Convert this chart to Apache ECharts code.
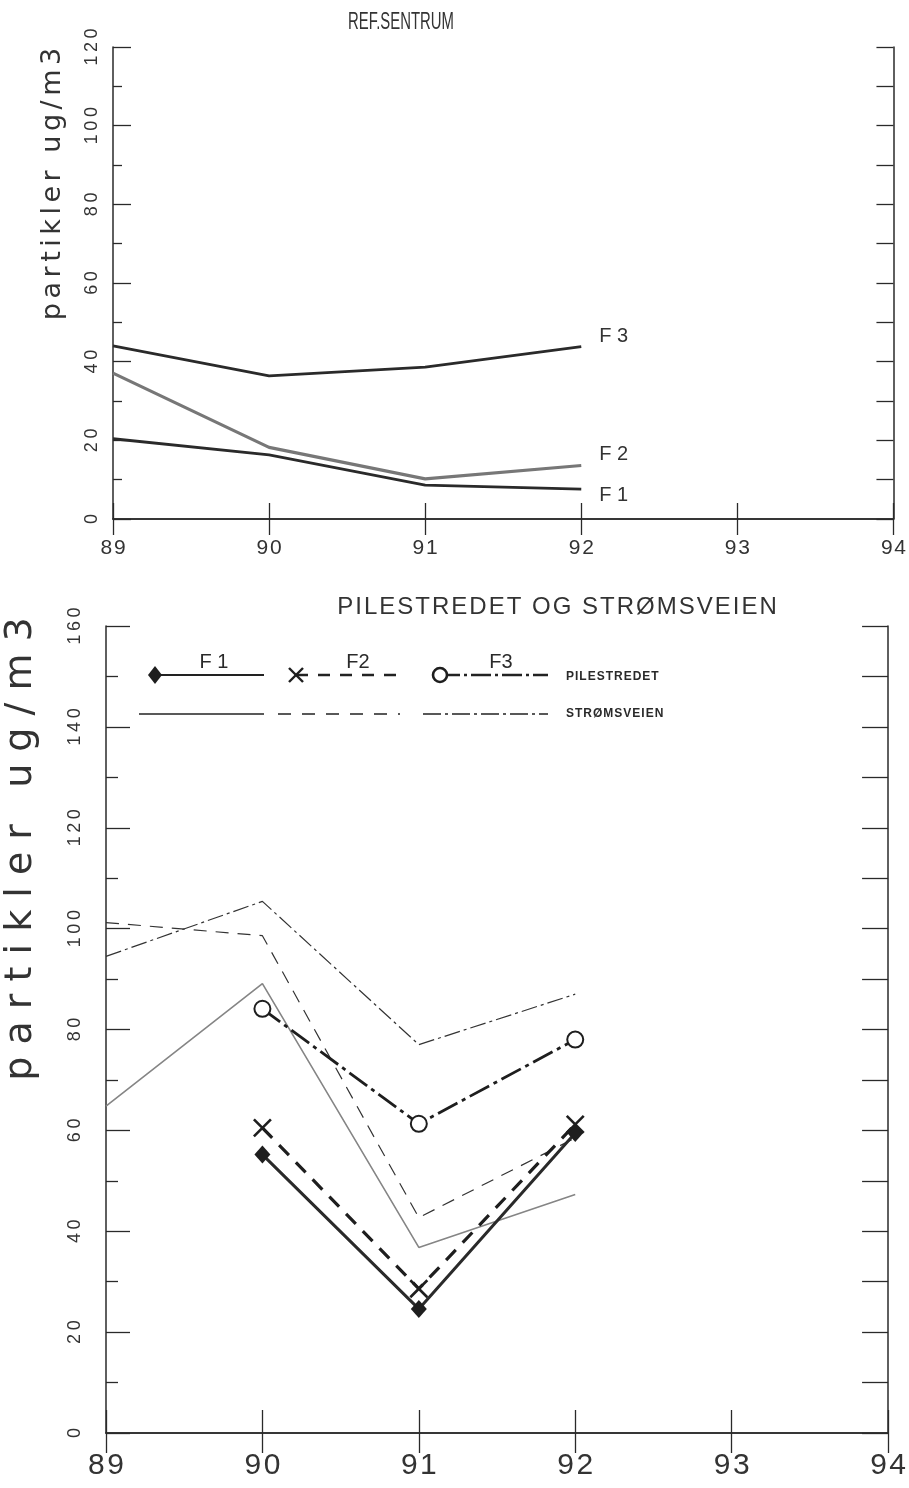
<!DOCTYPE html>
<html>
<head>
<meta charset="utf-8">
<title>Partikler ug/m3</title>
<script src="https://cdn.jsdelivr.net/npm/echarts@6/dist/echarts.min.js"></script>
<style>
  html, body { margin: 0; padding: 0; background: #fff; }
  #chart { width: 909px; height: 1488px; }
</style>
</head>
<body>
<div id="chart"></div>
<script>
// Years on the horizontal axis
const refYears = [89, 90, 91, 92];
const pileYears = [90, 91, 92];
const stromYears = [89, 90, 91, 92];

// REF. SENTRUM (upper panel), fraction F1..F3
const refF1 = [20.4, 16.3, 8.6, 7.6];
const refF2 = [37.1, 18.2, 10.2, 13.6];
const refF3 = [44.0, 36.4, 38.6, 43.8];

// Pilestredet (lower panel, heavy lines with markers)
const pileF1 = [55.2, 24.6, 59.5];
const pileF2 = [60.5, 28.6, 61.2];
const pileF3 = [84.1, 61.3, 78.0];

// Strømsveien (lower panel, thin lines)
const stromF1 = [64.8, 89.1, 36.8, 47.3];
const stromF2 = [101.2, 98.6, 42.7, 58.5];
const stromF3 = [94.5, 105.4, 77.0, 87.0];

// Axis labels and titles
const topTitle = 'REF.SENTRUM';
const bottomTitle = 'PILESTREDET OG STRØMSVEIEN';
const yTitle = 'partikler ug/m3';
const seriesNames = ['F1', 'F2', 'F3'];
const siteNames = ['PILESTREDET', 'STRØMSVEIEN'];

const INK = '#2a2a2a';
const GREY = '#858585';
const SANS = '"Liberation Sans", Arial, sans-serif';

const pairs = (xs, ys) => xs.map((x, i) => [x, ys[i]]);
const spaced = (s, sep) => String(s).split('').join(sep);
const spacedWords = (s, sep, gap) => s.split(' ').map(w => spaced(w, sep)).join(gap);

const axisLine = { show: true, lineStyle: { color: INK, width: 1.5 } };

function xAxisDef(grid, position, tickLen, labelSize, margin) {
  return {
    type: 'value', gridIndex: grid, position: position,
    min: 89, max: 94, interval: 1,
    axisLine: axisLine,
    axisTick: { show: true, inside: true, length: tickLen, lineStyle: { color: INK, width: 1.3 } },
    axisLabel: position === 'bottom' ? {
      show: true, margin: margin, color: '#333', fontSize: labelSize, fontFamily: SANS,
      formatter: v => spaced(v, '\u200A')
    } : { show: false },
    splitLine: { show: false }
  };
}

function yLeft(grid, max, tickLen, minorLen, margin) {
  return {
    type: 'value', gridIndex: grid, position: 'left',
    min: 0, max: max, interval: 20,
    axisLine: axisLine,
    axisTick: { show: true, inside: true, length: tickLen, lineStyle: { color: INK, width: 1.3 } },
    minorTick: { show: true, splitNumber: 2, length: minorLen, lineStyle: { color: INK, width: 1.3 } },
    axisLabel: {
      show: true, rotate: 90, margin: margin, color: '#333', fontSize: 18, fontFamily: SANS,
      formatter: v => spaced(v, '\u2009')
    },
    splitLine: { show: false }
  };
}

function yRight(grid, max, tickLen) {
  return {
    type: 'value', gridIndex: grid, position: 'right',
    min: 0, max: max, interval: 10,
    axisLine: axisLine,
    axisTick: { show: true, inside: true, length: tickLen, lineStyle: { color: INK, width: 1.3 } },
    axisLabel: { show: false },
    splitLine: { show: false }
  };
}

function refSeries(name, data, color, width, dy) {
  return {
    type: 'line', name: name, xAxisIndex: 0, yAxisIndex: 0,
    data: pairs(refYears, data), symbol: 'none',
    lineStyle: { color: color, width: width },
    endLabel: {
      show: true, formatter: spaced(name, ' '), distance: 18, offset: [0, dy],
      color: '#333', fontSize: 20, fontFamily: SANS
    },
    z: 3
  };
}

// X-shaped marker for the F2 series
const xMark = 'path://M0,0L10,10M10,0L0,10';

const series = [
  refSeries(seriesNames[0], refF1, INK, 2.8, 6),
  refSeries(seriesNames[1], refF2, '#777', 3.2, -11),
  refSeries(seriesNames[2], refF3, INK, 2.8, -10),

  // Strømsveien – thin lines
  { type: 'line', name: siteNames[1] + ' F1', xAxisIndex: 2, yAxisIndex: 2,
    data: pairs(stromYears, stromF1), symbol: 'none',
    lineStyle: { color: GREY, width: 1.6 } },
  { type: 'line', name: siteNames[1] + ' F2', xAxisIndex: 2, yAxisIndex: 2,
    data: pairs(stromYears, stromF2), symbol: 'none',
    lineStyle: { color: '#333', width: 1.2, type: [13, 9] } },
  { type: 'line', name: siteNames[1] + ' F3', xAxisIndex: 2, yAxisIndex: 2,
    data: pairs(stromYears, stromF3), symbol: 'none',
    lineStyle: { color: '#333', width: 1.2, type: [16, 4, 3, 4] } },

  // Pilestredet – heavy lines with markers
  { type: 'line', name: siteNames[0] + ' F1', xAxisIndex: 2, yAxisIndex: 2,
    data: pairs(pileYears, pileF1), symbol: 'diamond', symbolSize: [16, 18],
    itemStyle: { color: '#1e1e1e' },
    lineStyle: { color: '#2a2a2a', width: 3 }, z: 4 },
  { type: 'line', name: siteNames[0] + ' F2', xAxisIndex: 2, yAxisIndex: 2,
    data: pairs(pileYears, pileF2), symbol: xMark, symbolSize: 17,
    itemStyle: { color: 'none', borderColor: '#1e1e1e', borderWidth: 2.6 },
    lineStyle: { color: '#1e1e1e', width: 3.2, type: [14, 10] }, z: 4 },
  { type: 'line', name: siteNames[0] + ' F3', xAxisIndex: 2, yAxisIndex: 2,
    data: pairs(pileYears, pileF3), symbol: 'emptyCircle', symbolSize: 16,
    itemStyle: { color: '#1e1e1e', borderWidth: 3.2 },
    lineStyle: { color: '#1e1e1e', width: 2.8, type: [22, 5, 4, 5] }, z: 4 }
];

// Key for the lower panel
function keyLine(x1, x2, y, width, dash) {
  return { type: 'line', z: 10, shape: { x1: x1, y1: y, x2: x2, y2: y },
    style: { stroke: '#222', lineWidth: width, lineDash: dash || null } };
}
function keyText(x, y, text, font, align) {
  return { type: 'text', x: x, y: y, z: 10,
    style: { text: text, font: font, fill: '#2a2a2a',
      textAlign: align || 'left', textVerticalAlign: 'middle', align: align || 'left', verticalAlign: 'middle' } };
}
function centred(x, y, text, font, extra) {
  return Object.assign({ type: 'text', x: x, y: y,
    style: { text: text, font: font, fill: '#333',
      textAlign: 'center', textVerticalAlign: 'middle', align: 'center', verticalAlign: 'middle' } }, extra || {});
}

const keyRow1 = 675, keyRow2 = 714;
const graphic = [
  // panel titles
  centred(401, 22, topTitle, '24px ' + SANS, { scaleX: 0.62 }),
  centred(557, 607, spaced(bottomTitle, '\u200A'), '24px ' + SANS),

  // vertical axis titles
  centred(53, 184, spacedWords(yTitle, '\u2006', '\u2006 \u2006'), '27px "DejaVu Sans", sans-serif', { rotation: Math.PI / 2 }),
  centred(21, 849, spacedWords(yTitle, ' ', '   '), '38px "DejaVu Sans", sans-serif', { rotation: Math.PI / 2 }),

  // key, row 1: Pilestredet
  keyLine(155, 264, keyRow1, 2.2),
  { type: 'polygon', z: 11, shape: { points: [[155, keyRow1 - 9], [162, keyRow1], [155, keyRow1 + 9], [148, keyRow1]] },
    style: { fill: '#1e1e1e' } },
  keyText(214, 662, spaced(seriesNames[0], ' '), '20px ' + SANS, 'center'),
  keyLine(296, 400, keyRow1, 2.6, [12, 10]),
  { type: 'line', z: 11, shape: { x1: 289, y1: keyRow1 + 7, x2: 303, y2: keyRow1 - 7 }, style: { stroke: '#1e1e1e', lineWidth: 2.4 } },
  { type: 'line', z: 11, shape: { x1: 289, y1: keyRow1 - 7, x2: 303, y2: keyRow1 + 7 }, style: { stroke: '#1e1e1e', lineWidth: 2.4 } },
  keyText(358, 662, seriesNames[1], '20px ' + SANS, 'center'),
  keyLine(440, 548, keyRow1, 2.4, [20, 4, 3, 4]),
  { type: 'circle', z: 11, shape: { cx: 440, cy: keyRow1, r: 7 }, style: { fill: '#fff', stroke: '#1e1e1e', lineWidth: 2.6 } },
  keyText(501, 662, seriesNames[2], '20px ' + SANS, 'center'),
  keyText(566, 677, spaced(siteNames[0], '\u200A'), 'bold 12px ' + SANS),

  // key, row 2: Strømsveien
  keyLine(139, 264, keyRow2, 1.3),
  keyLine(278, 400, keyRow2, 1.3, [13, 11]),
  keyLine(423, 548, keyRow2, 1.3, [18, 4, 3, 4]),
  keyText(566, 714, spaced(siteNames[1], '\u200A'), 'bold 12px ' + SANS)
];

const option = {
  animation: false,
  backgroundColor: '#fff',
  grid: [
    { left: 113, top: 47, width: 782, height: 472 },
    { left: 106, top: 626, width: 789, height: 807 }
  ],
  xAxis: [
    xAxisDef(0, 'bottom', 16, 21, 19),
    xAxisDef(0, 'top', 16),
    xAxisDef(1, 'bottom', 23, 30, 18),
    xAxisDef(1, 'top', 20)
  ],
  yAxis: [
    yLeft(0, 120, 18, 9, 12),
    yRight(0, 120, 17),
    yLeft(1, 160, 24, 12, 22),
    yRight(1, 160, 26)
  ],
  series: series,
  graphic: graphic
};

const chart = echarts.init(document.getElementById('chart'), null, { renderer: 'canvas' });
chart.setOption(option);
</script>
</body>
</html>
